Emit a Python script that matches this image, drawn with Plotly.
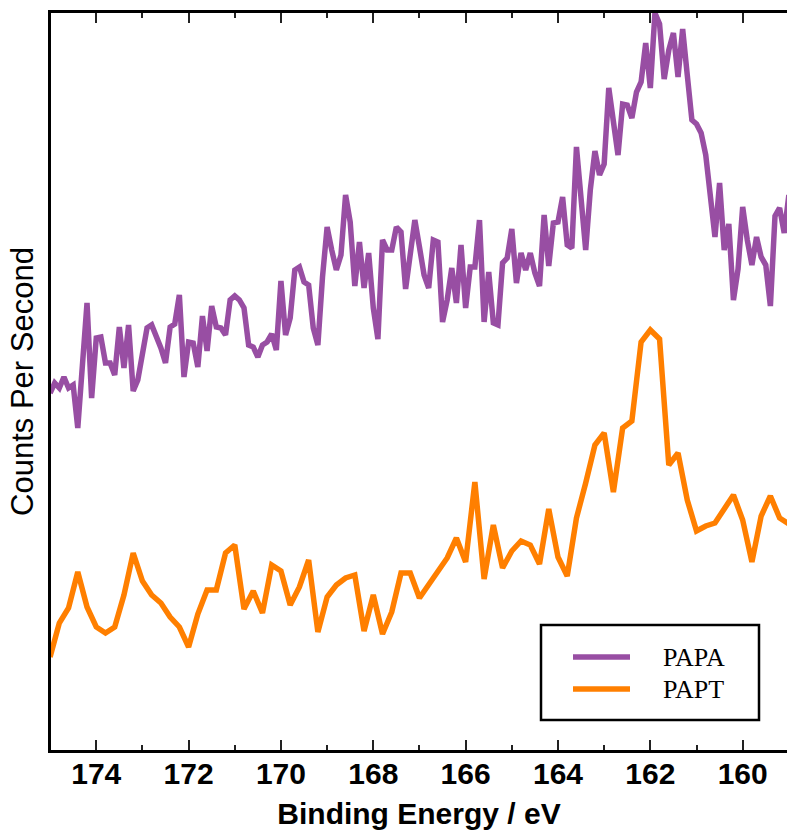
import numpy as np
import plotly.graph_objects as go

# ---- data (arbitrary intensity units) ----
papa_start, papa_step = 175.0, -0.1
papa_counts = [
    358, 368, 363, 374, 363, 366, 323, 386, 448, 353,
    413, 414, 388, 388, 376, 424, 383, 426, 360, 371,
    398, 423, 426, 416, 403, 388, 424, 427, 456, 374,
    409, 408, 384, 435, 400, 445, 424, 423, 416, 451,
    455, 451, 443, 406, 404, 394, 406, 409, 417, 401,
    470, 416, 433, 481, 484, 469, 466, 423, 406, 474,
    524, 501, 481, 496, 556, 529, 465, 509, 463, 498,
    443, 412, 511, 501, 501, 524, 519, 462, 499, 531,
    504, 476, 463, 511, 509, 429, 451, 483, 448, 506,
    443, 484, 484, 531, 429, 479, 428, 426, 488, 493,
    522, 468, 498, 481, 498, 478, 465, 536, 485, 528,
    529, 554, 506, 503, 604, 551, 501, 561, 600, 576,
    587, 663, 626, 596, 647, 646, 633, 659, 669, 708,
    663, 738, 727, 672, 701, 718, 674, 722, 676, 631,
    627, 618, 596, 551, 514, 568, 501, 527, 451, 482,
    544, 511, 486, 514, 494, 486, 445, 535, 543, 518,
    556,
]
papt_start, papt_step = 175.0, -0.2
papt_counts = [
    94, 128, 143, 179, 144, 124, 118, 124, 156, 198,
    170, 156, 148, 134, 124, 104, 137, 161, 161, 198,
    206, 142, 160, 138, 186, 180, 146, 164, 191, 119,
    154, 166, 173, 176, 120, 156, 117, 139, 178, 178,
    153, 166, 179, 193, 213, 189, 269, 172, 226, 183,
    200, 210, 206, 187, 242, 194, 175, 233, 268, 306,
    318, 259, 323, 330, 409, 421, 412, 286, 298, 251,
    220, 225, 228, 242, 256, 231, 189, 235, 255, 233,
    227,
]
series_names = ["PAPA", "PAPT"]
series_colors = ["#984ea3", "#ff7f00"]
x_ticks = [174, 172, 170, 168, 166, 164, 162, 160]

papa_x = np.round(papa_start + papa_step * np.arange(len(papa_counts)), 2)
papt_x = np.round(papt_start + papt_step * np.arange(len(papt_counts)), 2)

W, H = 787, 834
ML, MR, MT, MB = 51, 0, 13, 84

fig = go.Figure()
fig.add_trace(go.Scatter(x=papa_x, y=papa_counts, mode="lines", name=series_names[0],
                         line=dict(color=series_colors[0], width=5.5), showlegend=False))
fig.add_trace(go.Scatter(x=papt_x, y=papt_counts, mode="lines", name=series_names[1],
                         line=dict(color=series_colors[1], width=5.5), showlegend=False))

# helper: convert page pixels to paper coords
pw, ph = W - ML - MR, H - MT - MB
def px(x):
    return (x - ML) / pw
def py(y):
    return (H - MB - y) / ph

# legend box drawn in paper space
shapes = [dict(type="rect", xref="paper", yref="paper",
               x0=px(541), x1=px(759), y0=py(720), y1=py(625),
               line=dict(color="black", width=2.5), fillcolor="white", layer="above")]
annotations = []
for name, col, yy in zip(series_names, series_colors, [657, 689]):
    shapes.append(dict(type="line", xref="paper", yref="paper",
                       x0=px(573), x1=px(630), y0=py(yy), y1=py(yy),
                       line=dict(color=col, width=5.5), layer="above"))
    annotations.append(dict(text=name, xref="paper", yref="paper", x=px(661), y=py(yy),
                            xanchor="left", yanchor="middle", showarrow=False,
                            font=dict(family="Liberation Serif", size=26, color="black")))

fig.update_layout(
    width=W, height=H,
    margin=dict(l=ML, r=MR, t=MT, b=MB),
    paper_bgcolor="white", plot_bgcolor="white",
    shapes=shapes, annotations=annotations,
    showlegend=False,
)
fig.update_xaxes(
    range=[174.98, 159.04], tickvals=x_ticks, ticktext=[str(t) for t in x_ticks],
    ticks="inside", ticklen=10, tickwidth=1.5, tickcolor="#222",
    minor=dict(dtick=1, tick0=159, ticks="inside", ticklen=5, tickwidth=1.5, tickcolor="#222"),
    showline=True, linecolor="black", linewidth=3, mirror="ticks",
    showgrid=False, zeroline=False,
    ticklabelstandoff=-5,
    tickfont=dict(family="Liberation Sans", size=30, color="black", weight="bold"),
    title=dict(text="Binding Energy / eV", standoff=14,
               font=dict(family="Liberation Sans", size=30, color="black", weight="bold")),
)
fig.update_yaxes(
    range=[1, 738], showticklabels=False, ticks="",
    showline=True, linecolor="black", linewidth=3, mirror=False,
    showgrid=False, zeroline=False,
    title=dict(text="Counts Per Second", standoff=6,
               font=dict(family="Liberation Sans", size=31, color="black")),
)

fig.write_html("out.html")
